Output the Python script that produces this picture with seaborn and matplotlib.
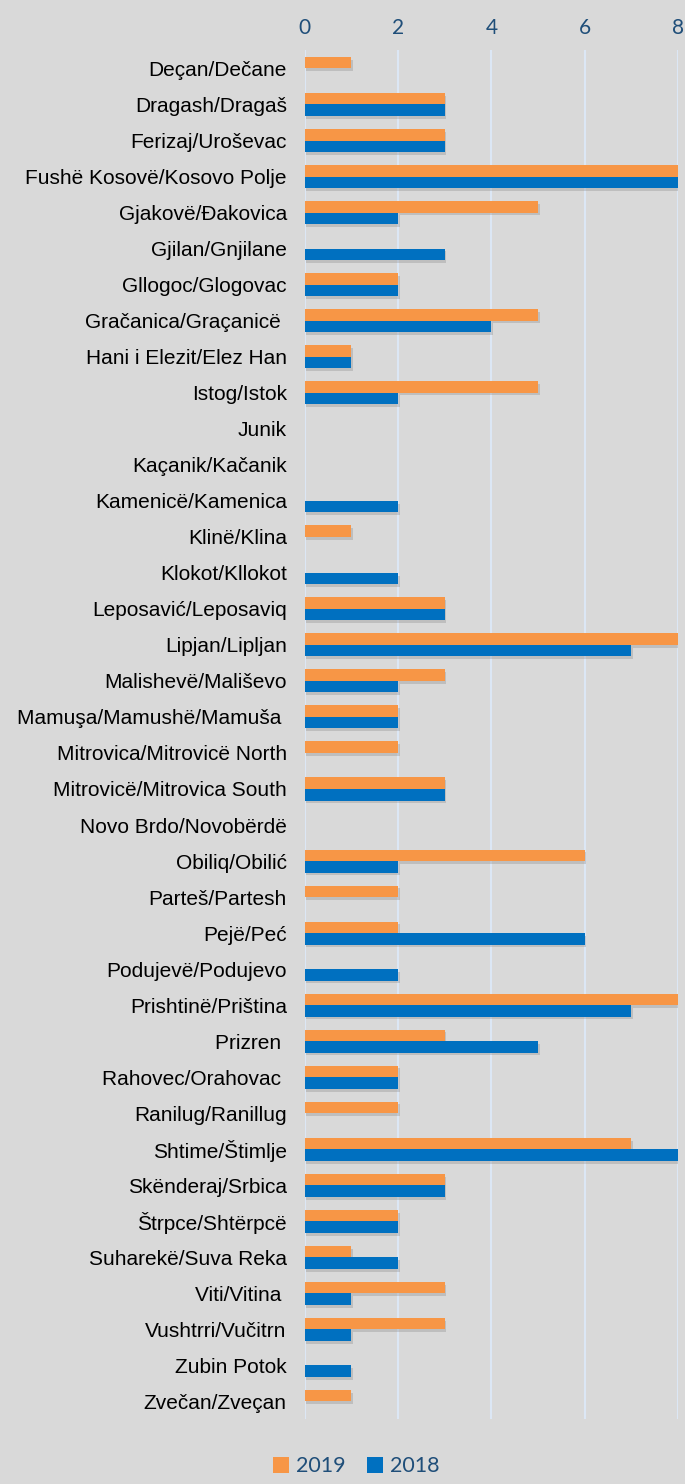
import pandas as pd
import matplotlib
matplotlib.use('Agg')
import matplotlib.pyplot as plt
import matplotlib.patheffects as pe
from matplotlib.patches import Patch
import seaborn as sns

# Data
municipalities = [
    'Deçan/Dečane', 'Dragash/Dragaš', 'Ferizaj/Uroševac', 'Fushë Kosovë/Kosovo Polje',
    'Gjakovë/Đakovica', 'Gjilan/Gnjilane', 'Gllogoc/Glogovac', 'Gračanica/Graçanicë ',
    'Hani i Elezit/Elez Han', 'Istog/Istok', 'Junik', 'Kaçanik/Kačanik',
    'Kamenicë/Kamenica', 'Klinë/Klina', 'Klokot/Kllokot', 'Leposavić/Leposaviq',
    'Lipjan/Lipljan', 'Malishevë/Mališevo', 'Mamuşa/Mamushë/Mamuša ', 'Mitrovica/Mitrovicë North',
    'Mitrovicë/Mitrovica South', 'Novo Brdo/Novobërdë', 'Obiliq/Obilić', 'Parteš/Partesh',
    'Pejë/Peć', 'Podujevë/Podujevo', 'Prishtinë/Priština', 'Prizren ',
    'Rahovec/Orahovac ', 'Ranilug/Ranillug', 'Shtime/Štimlje', 'Skënderaj/Srbica',
    'Štrpce/Shtërpcë', 'Suharekë/Suva Reka', 'Viti/Vitina ', 'Vushtrri/Vučitrn',
    'Zubin Potok', 'Zvečan/Zveçan',
]
values_2019 = [1, 3, 3, 8, 5, 0, 2, 5, 1, 5, 0, 0, 0, 1, 0, 3, 8, 3, 2, 2,
               3, 0, 6, 2, 2, 0, 8, 3, 2, 2, 7, 3, 2, 1, 3, 3, 0, 1]
values_2018 = [0, 3, 3, 8, 2, 3, 2, 4, 1, 2, 0, 0, 2, 0, 2, 3, 7, 2, 2, 0,
               3, 0, 2, 0, 6, 2, 7, 5, 2, 0, 8, 3, 2, 2, 1, 1, 1, 0]
years = ['2019', '2018']
x_ticks = [0, 2, 4, 6, 8]

df = pd.concat([
    pd.DataFrame({'municipality': municipalities, 'value': values_2019, 'year': '2019'}),
    pd.DataFrame({'municipality': municipalities, 'value': values_2018, 'year': '2018'}),
])

bg = '#D9D9D9'
palette = {'2019': '#F79646', '2018': '#0070C0'}
blue_text = '#1F4E79'

fig = plt.figure(figsize=(6.85, 14.84), dpi=100, facecolor=bg)
ax = fig.add_axes([0.445, 0.0435, 0.545, 0.9225])
ax.set_facecolor(bg)

sns.barplot(data=df, y='municipality', x='value', hue='year', hue_order=years,
            palette=palette, orient='h', width=0.64, linewidth=0,
            saturation=1, legend=False, ax=ax)

# soft drop shadow like the original
for bar in ax.patches:
    bar.set_path_effects([pe.SimplePatchShadow(offset=(1, -2), shadow_rgbFace='#808080', alpha=0.3),
                          pe.Normal()])

ax.set_xlim(0, 8)
ax.set_xticks(x_ticks)
ax.xaxis.tick_top()
ax.tick_params(axis='x', length=0, pad=9, labelsize=15, labelcolor=blue_text)
ax.tick_params(axis='y', length=0, pad=13, labelsize=15)
for lbl in ax.get_xticklabels():
    lbl.set_fontfamily('Lato')
for lbl in ax.get_yticklabels():
    lbl.set_fontfamily('Liberation Sans')
ax.set_xlabel('')
ax.set_ylabel('')
ax.grid(axis='x', color='#DCE7F5', linewidth=1.5)
ax.set_axisbelow(True)
for s in ax.spines.values():
    s.set_visible(False)

handles = [Patch(facecolor=palette[y], label=y) for y in years]
leg = fig.legend(handles=handles, loc='center', bbox_to_anchor=(0.52, 0.012), ncol=2,
                 frameon=False, handlelength=0.75, handleheight=0.75, handletextpad=0.3,
                 columnspacing=1.0, prop={'family': 'Lato', 'size': 15.5})
for t in leg.get_texts():
    t.set_color(blue_text)

fig.savefig('out.png', dpi=100, facecolor=bg)
